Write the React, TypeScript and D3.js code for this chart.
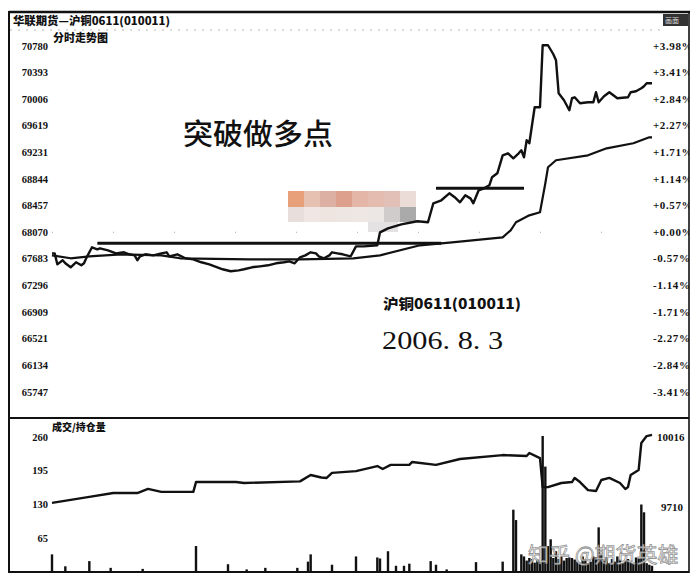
import React from "react";
import * as d3 from "d3";

const W = 696;
const H = 583;

// ---- tick labels ----
const priceTicks = [70780, 70393, 70006, 69619, 69231, 68844, 68457, 68070, 67683, 67296, 66909, 66521, 66134, 65747];
const pctTicks = ["+3.98%", "+3.41%", "+2.84%", "+2.27%", "+1.71%", "+1.14%", "+0.57%", "+0.00%", "-0.57%", "-1.14%", "-1.71%", "-2.27%", "-2.84%", "-3.41%"];
const volTicks = [260, 195, 130, 65];
const oiTicks = [10016, 9710];

// ---- series (minute of session, value) ----
const priceSeries: [number, number][] = [
  [0, 67764], [1, 67764], [2, 67604], [4, 67663], [5, 67619], [7, 67561], [9, 67634], [11, 67590], [12, 67619], [13, 67706],
  [15, 67852], [17, 67822], [18, 67837], [21, 67808], [24, 67764], [27, 67779], [29, 67750], [31, 67735], [32, 67663], [33, 67721], [35, 67750],
  [38, 67735], [41, 67764], [43, 67779], [44, 67721], [47, 67750], [50, 67692], [53, 67677], [56, 67634], [59, 67604], [61, 67575],
  [64, 67532], [67, 67503], [70, 67517], [72, 67532], [75, 67561], [78, 67575], [81, 67590], [84, 67619], [87, 67634],
  [89, 67648], [91, 67619], [93, 67706], [95, 67735], [97, 67779], [99, 67764], [100, 67721], [102, 67692], [104, 67735], [105, 67779], [107, 67764], [109, 67750], [112, 67721],
  [114, 67866], [117, 67866], [122, 67881], [123, 68070], [126, 68128], [131, 68186], [137, 68230], [141, 68216],
  [143, 68492], [146, 68536], [149, 68637], [151, 68580], [153, 68507], [155, 68608], [157, 68560], [158, 68492], [160, 68681], [162, 68710], [164, 68754],
  [165, 68870], [167, 68928], [169, 69190], [171, 69219], [173, 69147], [175, 69219], [176, 69263], [177, 69161], [178, 69409],
  [179, 69365], [181, 69889], [183, 69889], [184, 70791], [186, 70791], [188, 70660], [189, 70573], [190, 70092], [192, 69991],
  [194, 69845], [195, 70020], [196, 70034], [198, 69947], [201, 69962], [203, 69962], [204, 70107], [205, 69962], [207, 70049], [209, 70107], [212, 70020],
  [216, 70034], [217, 70107], [219, 70122], [221, 70165], [222, 70194], [223, 70238], [225, 70238],
];

const avgSeries: [number, number][] = [
  [0, 67735], [7, 67692], [14, 67721], [26, 67750], [41, 67735], [48, 67692], [74, 67677], [93, 67677],
  [113, 67692], [123, 67735], [138, 67881], [146, 67910], [150, 67924], [169, 67997], [172, 68099], [174, 68216],
  [179, 68317], [183, 68361], [185, 68783], [186, 69016], [189, 69118], [201, 69190], [208, 69292], [218, 69365],
  [224, 69452], [225, 69452],
];

// breakout reference levels: [price, fromMinute, toMinute]
const levelLines: [number, number, number][] = [
  [67910, 17, 146],
  [68710, 144, 177],
];

const oiSeries: [number, number][] = [
  [0, 9728], [14, 9754], [23, 9771], [32, 9771], [36, 9789], [41, 9776], [53, 9776], [54, 9819],
  [69, 9819], [72, 9815], [93, 9822], [97, 9850], [101, 9839], [103, 9837], [105, 9859], [114, 9867],
  [122, 9889], [124, 9876], [127, 9894], [134, 9894], [135, 9907], [144, 9894], [153, 9920], [169, 9937],
  [178, 9933], [179, 9946], [182, 9929], [183, 9924], [184, 9797], [186, 9797], [191, 9815], [195, 9819],
  [196, 9837], [198, 9819], [201, 9784], [204, 9780], [206, 9828], [209, 9837], [213, 9815], [215, 9789],
  [216, 9797], [217, 9850], [220, 9872], [221, 9990], [223, 10020], [225, 10025],
];

const volSeries: [number, number][] = [
  [0, 34], [5, 11], [14, 21], [22, 8], [34, 6], [54, 50], [66, 15], [73, 5], [80, 8], [92, 8],
  [96, 20], [97, 34], [105, 14], [114, 30], [122, 28], [123, 26], [126, 40], [129, 12], [132, 12],
  [134, 16], [142, 21], [144, 14], [148, 5], [159, 19], [169, 20], [173, 120], [174, 100], [176, 34],
  [177, 30], [178, 22], [179, 27], [180, 25], [181, 18], [182, 24], [183, 20], [184, 262], [185, 203],
  [186, 50], [187, 63], [188, 27], [189, 40], [190, 25], [191, 30], [192, 22], [193, 27], [194, 28],
  [195, 27], [196, 24], [197, 20], [198, 18], [199, 30], [200, 22], [201, 17], [202, 20], [203, 30],
  [204, 28], [205, 86], [206, 35], [207, 22], [208, 28], [209, 17], [210, 25], [211, 20], [212, 30],
  [213, 24], [214, 17], [215, 22], [216, 25], [217, 20], [218, 17], [219, 28], [220, 26], [221, 130],
  [222, 115], [223, 17], [224, 14], [225, 12],
];

const annotation = "突破做多点";
const contractLabel = "沪铜0611(010011)";
const dateLabel = "2006. 8. 3";
const topTitle = "华联期货—沪铜0611(010011)";
const panelTitle = "分时走势图";
const volTitle = "成交/持仓量";
const watermark = "知乎 @期货英雄";

const mosaicTop = ["#e8a07a", "#e6c0b0", "#ddb0a4", "#dca08c", "#e3b6a8", "#e4bcb0", "#e2c0b8", "#ebdcd8"];
const mosaicBottom = ["#e8dedb", "#f0e6e4", "#eee4e0", "#eee6e3", "#efe7e4", "#ece6e4", "#d0cccc", "#aaaaaa"];

const INK = "#111";
const LABEL_FONT = "'Liberation Serif', 'DejaVu Serif', serif";
const CJK_FONT = "'Noto Sans CJK SC', 'Noto Sans', sans-serif";

export default function App() {
  const x = d3.scaleLinear().domain([0, 225]).range([52, 652]);
  const yP = d3.scaleLinear().domain([65747, 70780]).range([392, 46]);
  const yV = d3.scaleLinear().domain([0, 260]).range([572, 437]);
  const yOI = d3.scaleLinear().domain([9710, 10016]).range([507, 437]);

  const lineP = d3.line<[number, number]>().x((d) => x(d[0])).y((d) => yP(d[1]));
  const lineOI = d3.line<[number, number]>().x((d) => x(d[0])).y((d) => yOI(d[1]));

  const barW = 2.4;

  return (
    <svg
      width={W}
      height={H}
      viewBox={`0 0 ${W} ${H}`}
      style={{ position: "absolute", left: 0, top: 0, display: "block", background: "#fff" }}
    >
      <defs>
        <clipPath id="frameClip">
          <rect x={0} y={0} width={689} height={H} />
        </clipPath>
      </defs>
      <rect x={0} y={0} width={W} height={H} fill="#fff" />

      {/* frame */}
      <line x1={9} x2={690} y1={12} y2={12} stroke={INK} strokeWidth={2.5} />
      <line x1={9} x2={9} y1={11} y2={573} stroke={INK} strokeWidth={2} />
      <line x1={689} x2={689} y1={11} y2={573} stroke={INK} strokeWidth={1.6} />
      <line x1={9} x2={689} y1={418} y2={418} stroke={INK} strokeWidth={2} />
      <line x1={9} x2={689} y1={572} y2={572} stroke={INK} strokeWidth={2} />
      <line x1={10} x2={660} y1={30} y2={30} stroke="#888" strokeWidth={1} strokeDasharray="2,6" opacity={0.6} />

      {/* title bar */}
      <text x={13} y={25} fontFamily={CJK_FONT} fontWeight={900} fontSize={11} fill={INK} textLength={157} lengthAdjust="spacingAndGlyphs">
        {topTitle}
      </text>
      <rect x={663} y={14} width={25} height={12} fill="#333" />
      <text x={665} y={23} fontFamily={CJK_FONT} fontSize={7} fill="#ddd">画面</text>

      <text x={53} y={42} fontFamily={CJK_FONT} fontWeight={900} fontSize={11} fill={INK}>{panelTitle}</text>

      {/* price axis labels */}
      {priceTicks.map((t) => (
        <text key={"p" + t} x={48} y={yP(t) + 3.5} textAnchor="end" fontFamily={LABEL_FONT} fontWeight={700} fontSize={10.5} fill={INK}>
          {t}
        </text>
      ))}
      <g clipPath="url(#frameClip)">
        {priceTicks.map((t, i) => (
          <text key={"r" + t} x={653} y={yP(t) + 3.5} fontFamily={LABEL_FONT} fontWeight={700} fontSize={11} letterSpacing={0.6} fill={INK}>
            {pctTicks[i]}
          </text>
        ))}
        {oiTicks.map((t) => (
          <text key={"o" + t} x={t >= 10000 ? 657 : 661} y={yOI(t) + 3.5} fontFamily={LABEL_FONT} fontWeight={700} fontSize={11} fill={INK}>
            {t}
          </text>
        ))}
      </g>

      {/* faint zero gridline */}
      <line x1={52} x2={652} y1={yP(68070)} y2={yP(68070)} stroke="#aaa" strokeWidth={1} strokeDasharray="1,60" />

      {/* mosaic */}
      {mosaicTop.map((c, i) => (
        <rect key={"mt" + i} x={288 + i * 16} y={191} width={16} height={16} fill={c} />
      ))}
      {mosaicBottom.map((c, i) => (
        <rect key={"mb" + i} x={288 + i * 16} y={207} width={16} height={15} fill={c} />
      ))}
      <rect x={368} y={222} width={30} height={10} fill="#e4e2e2" />

      {/* level lines */}
      {levelLines.map((l, i) => (
        <line key={"l" + i} x1={x(l[1])} x2={x(l[2])} y1={yP(l[0])} y2={yP(l[0])} stroke={INK} strokeWidth={3} />
      ))}

      {/* average line & price line */}
      <path d={lineP(avgSeries) || ""} fill="none" stroke={INK} strokeWidth={2.2} strokeLinejoin="round" />
      <path d={lineP(priceSeries) || ""} fill="none" stroke={INK} strokeWidth={2.4} strokeLinejoin="round" />

      {/* annotations */}
      <text x={183} y={145} fontFamily={CJK_FONT} fontWeight={500} fontSize={29} fill={INK} textLength={150} lengthAdjust="spacingAndGlyphs">
        {annotation}
      </text>
      <text x={383} y={309} fontFamily={CJK_FONT} fontWeight={900} fontSize={14} fill={INK} textLength={138} lengthAdjust="spacingAndGlyphs">
        {contractLabel}
      </text>
      <text x={382} y={349} fontFamily={LABEL_FONT} fontSize={26} fill={INK} textLength={121} lengthAdjust="spacingAndGlyphs">
        {dateLabel}
      </text>

      {/* bottom panel */}
      <text x={52} y={431} fontFamily={CJK_FONT} fontWeight={900} fontSize={10} fill={INK}>{volTitle}</text>
      {volTicks.map((t) => (
        <text key={"v" + t} x={48} y={yV(t) + 3.5} textAnchor="end" fontFamily={LABEL_FONT} fontWeight={700} fontSize={10.5} fill={INK}>
          {t}
        </text>
      ))}
      {volSeries.map((d, i) => (
        <rect key={"b" + i} x={x(d[0]) - barW / 2} y={yV(d[1])} width={barW} height={yV(0) - yV(d[1])} fill={INK} />
      ))}
      <path d={lineOI(oiSeries) || ""} fill="none" stroke={INK} strokeWidth={2.4} strokeLinejoin="round" />

      {/* watermark */}
      <text x={528} y={562} fontFamily={CJK_FONT} fontSize={21} fill="#fff" fillOpacity={0.75} stroke="#777" strokeWidth={0.8} strokeOpacity={0.8}>
        {watermark}
      </text>
    </svg>
  );
}
